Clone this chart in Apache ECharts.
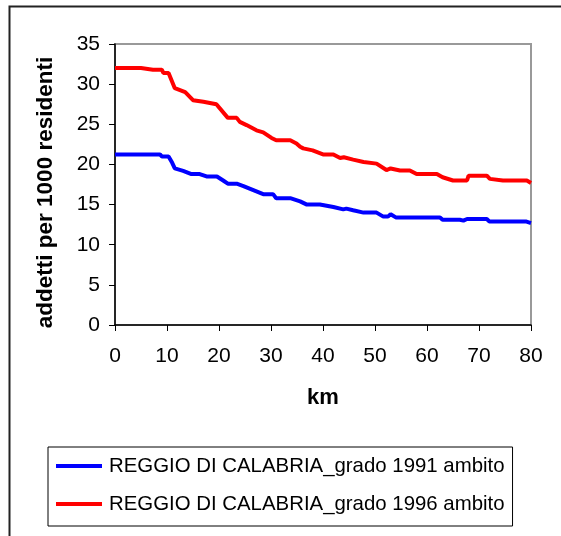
<!DOCTYPE html>
<html>
<head>
<meta charset="utf-8">
<script src="https://cdn.jsdelivr.net/npm/echarts@6/dist/echarts.min.js"></script>
<style>
html,body{margin:0;padding:0;background:#fff;}
#c{width:561px;height:536px;}
</style>
</head>
<body>
<div id="c"></div>
<script>
const xTicks = [0, 10, 20, 30, 40, 50, 60, 70, 80];
const yTicks = [0, 5, 10, 15, 20, 25, 30, 35];
const seriesNames = ['REGGIO DI CALABRIA_grado 1991 ambito', 'REGGIO DI CALABRIA_grado 1996 ambito'];

const kmBlue = [0, 8.65, 9.0, 10.3, 11.0, 11.5, 13.1, 14.7, 16.3, 17.6, 19.6, 20.8, 21.7, 23.4, 24.7, 26.6, 28.5, 30.4, 31.0, 33.7, 35.6, 36.9, 39.4, 42.0, 43.9, 44.5, 45.8, 47.8, 50.3, 51.6, 52.5, 53.0, 54.0, 62.5, 63.0, 66.3, 67.0, 67.7, 71.5, 72.0, 79.0, 80.0];
const valBlue = [21.25, 21.25, 21.0, 21.0, 20.2, 19.5, 19.2, 18.8, 18.8, 18.5, 18.5, 18.0, 17.6, 17.6, 17.3, 16.8, 16.3, 16.3, 15.8, 15.8, 15.4, 15.0, 15.0, 14.7, 14.4, 14.5, 14.3, 14.0, 14.0, 13.5, 13.5, 13.8, 13.4, 13.4, 13.1, 13.1, 13.0, 13.2, 13.2, 12.9, 12.9, 12.7];

const kmRed = [0, 5.0, 7.3, 9.0, 9.3, 10.3, 11.5, 13.5, 15.0, 17.0, 19.5, 21.7, 23.4, 24.0, 25.3, 27.2, 28.5, 30.1, 31.0, 33.7, 34.9, 35.6, 36.2, 38.0, 40.0, 42.0, 43.3, 44.0, 45.8, 47.8, 50.3, 52.2, 53.0, 54.8, 56.7, 58.0, 61.9, 63.0, 65.0, 67.7, 68.0, 71.5, 72.1, 74.6, 79.2, 80.0];
const valRed = [32.0, 32.0, 31.8, 31.8, 31.4, 31.4, 29.5, 29.0, 28.0, 27.8, 27.5, 25.8, 25.8, 25.3, 24.9, 24.25, 24.0, 23.3, 23.0, 23.0, 22.6, 22.2, 22.0, 21.75, 21.25, 21.25, 20.8, 20.9, 20.6, 20.3, 20.1, 19.3, 19.5, 19.25, 19.25, 18.8, 18.8, 18.4, 18.0, 18.0, 18.6, 18.6, 18.2, 18.0, 18.0, 17.7];

const FONT = "'Liberation Sans', Arial, sans-serif";
const chart = echarts.init(document.getElementById('c'), null, {renderer: 'canvas'});

chart.setOption({
  animation: false,
  backgroundColor: '#fff',
  textStyle: {fontFamily: FONT},
  graphic: [{
    type: 'rect', left: 7, top: 4, z: -1,
    shape: {x: 0, y: 0, width: 560, height: 540},
    style: {fill: 'none', stroke: '#222', lineWidth: 2}
  }],
  grid: {
    left: 115, right: 30, top: 44, bottom: 211,
    show: true, borderColor: '#999', borderWidth: 2, backgroundColor: '#fff'
  },
  legend: {
    orient: 'vertical',
    left: 48, top: 447,
    padding: [9, 8, 12, 8],
    itemGap: 18,
    itemWidth: 46, itemHeight: 4,
    icon: 'rect',
    borderColor: '#000', borderWidth: 1,
    textStyle: {fontFamily: FONT, fontSize: 20.4, color: '#000', padding: [0, 0, 0, 2]},
    data: seriesNames
  },
  xAxis: {
    type: 'value', min: xTicks[0], max: xTicks[xTicks.length - 1], interval: 10,
    name: 'km', nameLocation: 'middle', nameGap: 62,
    nameTextStyle: {fontFamily: FONT, fontSize: 22, fontWeight: 'bold', color: '#000'},
    axisLine: {show: true, onZero: false, lineStyle: {color: '#000', width: 1.5}},
    axisTick: {show: true, inside: false, length: 6, lineStyle: {color: '#000', width: 1}},
    axisLabel: {fontFamily: FONT, fontSize: 21, color: '#000', margin: 21},
    splitLine: {show: false}
  },
  yAxis: {
    type: 'value', min: yTicks[0], max: yTicks[yTicks.length - 1], interval: 5,
    name: 'addetti per 1000 residenti', nameLocation: 'middle', nameGap: 58, nameRotate: 90,
    nameTextStyle: {fontFamily: FONT, fontSize: 22.5, fontWeight: 'bold', color: '#000', padding: [0, 16, 0, 0]},
    axisLine: {show: true, lineStyle: {color: '#000', width: 1.5}},
    axisTick: {show: true, inside: false, length: 6, lineStyle: {color: '#000', width: 1}},
    axisLabel: {fontFamily: FONT, fontSize: 21, color: '#000', margin: 15},
    splitLine: {show: false}
  },
  series: [
    {
      name: seriesNames[0], type: 'line', showSymbol: false, symbol: 'none',
      color: '#0000ff', lineStyle: {color: '#0000ff', width: 4},
      data: kmBlue.map((k, i) => [k, valBlue[i]])
    },
    {
      name: seriesNames[1], type: 'line', showSymbol: false, symbol: 'none',
      color: '#ff0000', lineStyle: {color: '#ff0000', width: 4},
      data: kmRed.map((k, i) => [k, valRed[i]])
    }
  ]
});
</script>
</body>
</html>
